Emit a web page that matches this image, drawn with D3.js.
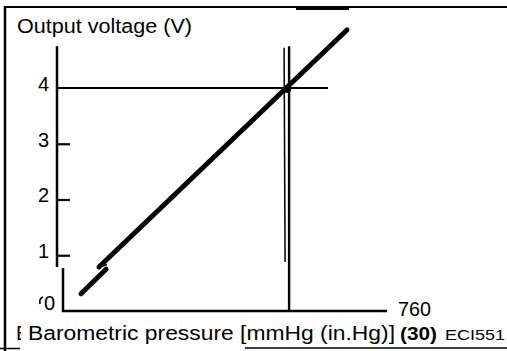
<!DOCTYPE html>
<html>
<head>
<meta charset="utf-8">
<script src="https://cdn.jsdelivr.net/npm/d3@7"></script>
<style>
  html, body { margin: 0; padding: 0; background: #fff; }
  svg { display: block; }
  text { font-family: "Liberation Sans", Arial, Helvetica, sans-serif; fill: #000; }
</style>
</head>
<body>
<svg id="chart" width="507" height="351"></svg>
<script>
// Output voltage of the barometric pressure sensor
const voltTicks = [1, 2, 3, 4];
const voltTickLabels = ["1", "2", "3", "4"];
const zeroLabel = "0";
const pressureMax = 760;            // end of the pressure axis (mmHg)
const pressureLabel = "760";
const refPressure = 528;            // pressure at which output reads 4 V
const refVoltage = 4;
// characteristic line, drawn with a break symbol near its lower end
const upperSegment = [[666, 5.04], [84.4, 0.79]];
const breakJog = [[84.4, 0.79], [103, 0.83]];
const lowerSegment = [[101, 0.75], [42.2, 0.31]];
const yAxisTop = 4.75, yAxisBreak = 0.79, yAxisLowerTop = 0.77;
const titleText = "Output  voltage (V)";
const xTitleText = "Barometric pressure [mmHg (in.Hg)]";
const xTitleAlt = "(30)";
const figCode = "ECI551";

const svg = d3.select("#chart");
const x = d3.scaleLinear().domain([0, pressureMax]).range([63, 387]);
const y = d3.scaleLinear().domain([0, 4]).range([311, 88]);
const yAxisX = x(0) - 6;

// frame
svg.append("line").attr("x1", 5).attr("x2", 5).attr("y1", 6).attr("y2", 351)
  .attr("stroke", "#000").attr("stroke-width", 2.5);
svg.append("line").attr("x1", 4).attr("x2", 507).attr("y1", 7).attr("y2", 7)
  .attr("stroke", "#000").attr("stroke-width", 2);
svg.append("line").attr("x1", 296).attr("x2", 349).attr("y1", 8.5).attr("y2", 8.5)
  .attr("stroke", "#000").attr("stroke-width", 3);
svg.append("line").attr("x1", 0).attr("x2", 20).attr("y1", 348.5).attr("y2", 348.5)
  .attr("stroke", "#000").attr("stroke-width", 1.5);
svg.append("line").attr("x1", 245).attr("x2", 507).attr("y1", 348).attr("y2", 348)
  .attr("stroke", "#000").attr("stroke-width", 1.5);

// title
svg.append("text").attr("x", 17).attr("y", 33).style("font-size", "20px")
  .attr("textLength", 175).attr("lengthAdjust", "spacingAndGlyphs").text(titleText);

// y axis (ticks point inward, labels to the left)
const yAxis = d3.axisLeft(y).tickValues(voltTicks)
  .tickFormat((d, i) => voltTickLabels[i]).tickSizeInner(-13).tickSizeOuter(0).tickPadding(22);
const gy = svg.append("g").attr("transform", `translate(${yAxisX},0)`).call(yAxis);
gy.select(".domain").remove();
gy.selectAll(".tick line").attr("stroke", "#000").attr("stroke-width", 2.2)
  .attr("x2", d => d === refVoltage ? 0 : 13);
gy.selectAll(".tick text")
  .style("font-size", "20px").style("font-family", "'Liberation Sans', Arial, sans-serif")
  .attr("dy", "0.12em").attr("x", -8).attr("fill", "#000");

// y axis line, broken near the bottom
svg.append("line").attr("x1", yAxisX).attr("x2", yAxisX)
  .attr("y1", y(yAxisTop)).attr("y2", y(yAxisBreak))
  .attr("stroke", "#000").attr("stroke-width", 2.5);
svg.append("line").attr("x1", x(0)).attr("x2", x(0))
  .attr("y1", y(yAxisLowerTop)).attr("y2", y(0) + 1)
  .attr("stroke", "#000").attr("stroke-width", 2.5);
svg.append("text").attr("x", x(0) - 8).attr("y", y(0) - 7).attr("dy", "0.32em")
  .style("font-size", "20px").attr("text-anchor", "end").text(zeroLabel);
svg.append("path").attr("d", "M40,304 Q39,298 43,297")
  .attr("fill", "none").attr("stroke", "#000").attr("stroke-width", 1.6);

// x axis
svg.append("line").attr("x1", x(0) - 1).attr("x2", x(pressureMax))
  .attr("y1", y(0)).attr("y2", y(0)).attr("stroke", "#000").attr("stroke-width", 2.5);
svg.append("text").attr("x", x(pressureMax) + 11).attr("y", y(0) + 5).style("font-size", "20px")
  .attr("textLength", 33).attr("lengthAdjust", "spacingAndGlyphs").text(pressureLabel);

// reference lines at 4 V
svg.append("line").attr("x1", yAxisX).attr("x2", x(621.6))
  .attr("y1", y(refVoltage)).attr("y2", y(refVoltage))
  .attr("stroke", "#000").attr("stroke-width", 2);
svg.append("line").attr("x1", x(refPressure) + 1).attr("x2", x(refPressure) + 1)
  .attr("y1", y(yAxisTop)).attr("y2", y(0))
  .attr("stroke", "#000").attr("stroke-width", 2.4);
svg.append("line").attr("x1", x(refPressure) - 4).attr("x2", x(refPressure) - 3)
  .attr("y1", y(4.72)).attr("y2", y(0.88))
  .attr("stroke", "#000").attr("stroke-width", 1.5);

// characteristic line
const line = d3.line().x(d => x(d[0])).y(d => y(d[1]));
svg.append("path").attr("d", line(upperSegment)).attr("fill", "none")
  .attr("stroke", "#000").attr("stroke-width", 5).attr("stroke-linecap", "round");
svg.append("path").attr("d", line(breakJog)).attr("fill", "none")
  .attr("stroke", "#000").attr("stroke-width", 1.5);
svg.append("path").attr("d", line(lowerSegment)).attr("fill", "none")
  .attr("stroke", "#000").attr("stroke-width", 5).attr("stroke-linecap", "round");
svg.append("circle").attr("cx", x(refPressure) - 1).attr("cy", y(refVoltage) + 1).attr("r", 4);

// x title line
svg.append("clipPath").attr("id", "edgeClip").append("rect")
  .attr("x", 16).attr("y", 320).attr("width", 5).attr("height", 25);
svg.append("text").attr("x", 16).attr("y", 340).style("font-size", "20px")
  .attr("clip-path", "url(#edgeClip)").text("E");
svg.append("text").attr("x", 28).attr("y", 340).style("font-size", "20px")
  .attr("textLength", 367).attr("lengthAdjust", "spacingAndGlyphs").text(xTitleText);
svg.append("text").attr("x", 400).attr("y", 340).style("font-size", "19px").attr("font-weight", "bold")
  .attr("textLength", 37).attr("lengthAdjust", "spacingAndGlyphs").text(xTitleAlt);
svg.append("text").attr("x", 445).attr("y", 340).style("font-size", "15px")
  .attr("textLength", 60).attr("lengthAdjust", "spacingAndGlyphs").text(figCode);
</script>
</body>
</html>
